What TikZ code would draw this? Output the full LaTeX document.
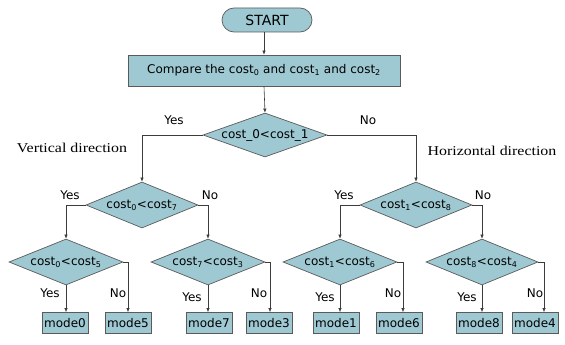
\documentclass[tikz,border=0pt]{standalone}
\usepackage{fontspec}
\setmainfont{DejaVu Sans}
\newfontfamily\seriff[FakeStretch=1.18]{Liberation Serif}
\usetikzlibrary{shapes.geometric,arrows.meta}
\definecolor{boxfill}{RGB}{158,201,210}
\definecolor{edgeclr}{RGB}{90,90,90}
\definecolor{lineclr}{RGB}{60,60,60}
\newcommand{\sbs}[1]{\textsubscript{#1}}
\begin{document}
\begin{tikzpicture}[x=1pt,y=-1pt,
  shapebox/.style={draw=edgeclr, fill=boxfill, line width=0.7pt, inner sep=0pt, font=\fontsize{12}{14}\selectfont},
  modebox/.style={shapebox, minimum width=46pt, minimum height=21pt},
  decision/.style={shapebox, diamond, minimum width=#1, minimum height=46pt},
  conn/.style={draw=lineclr, line width=0.6pt, -{Latex[length=4pt,width=3.5pt]}},
  lab/.style={font=\fontsize{12}{14}\selectfont, inner sep=0pt},
  dirlab/.style={font=\seriff\fontsize{13.5}{15}\selectfont, inner sep=0pt}]
\useasboundingbox (0,0) rectangle (565,345);
% nodes
\node[shapebox, rounded corners=12pt, minimum width=90pt, minimum height=24pt, font=\fontsize{14}{16}\selectfont] (start) at (267,20) {START};
\node[shapebox, minimum width=272pt, minimum height=31pt] (cmp) at (264,70.5) {Compare the cost\sbs{0} and cost\sbs{1} and cost\sbs{2}};
\node[decision=124pt, minimum height=44pt] (d0) at (265,135) {\makebox[0pt]{cost\_0<cost\_1}};
\node[decision=112pt] (dL) at (142,205) {\makebox[0pt]{cost\sbs{0}<cost\sbs{7}}};
\node[decision=112pt] (dR) at (416,205) {\makebox[0pt]{cost\sbs{1}<cost\sbs{8}}};
\node[decision=114pt] (dLL) at (66,262) {\makebox[0pt]{cost\sbs{0}<cost\sbs{5}}};
\node[decision=114pt] (dLR) at (208,262) {\makebox[0pt]{cost\sbs{7}<cost\sbs{3}}};
\node[decision=114pt] (dRL) at (340,262) {\makebox[0pt]{cost\sbs{1}<cost\sbs{6}}};
\node[decision=112pt] (dRR) at (482,262) {\makebox[0pt]{cost\sbs{8}<cost\sbs{4}}};
\node[modebox] (m0) at (65,323) {mode0};
\node[modebox] (m5) at (128,323) {mode5};
\node[modebox] (m7) at (209,323) {mode7};
\node[modebox] (m3) at (269,323) {mode3};
\node[modebox] (m1) at (336,323) {mode1};
\node[modebox] (m6) at (399,323) {mode6};
\node[modebox] (m8) at (479,323) {mode8};
\node[modebox] (m4) at (535,323) {mode4};
% connectors
\draw[conn] (start.south -| cmp.north) -- (cmp.north);
\draw[conn] (cmp.south) -- (d0.north);
\draw[conn] (d0.west) -| (dL.north);
\draw[conn] (d0.east) -| (dR.north);
\draw[conn] (dL.west) -| (dLL.north);
\draw[conn] (dL.east) -| (dLR.north);
\draw[conn] (dR.west) -| (dRL.north);
\draw[conn] (dR.east) -| (dRR.north);
\draw[conn] (dLL.south) -- (dLL.south |- m0.north);
\draw[conn] (dLL.east) -| (m5.north);
\draw[conn] (dLR.south) -- (dLR.south |- m7.north);
\draw[conn] (dLR.east) -| ([xshift=1pt]m3.north);
\draw[conn] (dRL.south) -- (dRL.south |- m1.north);
\draw[conn] (dRL.east) -| ([xshift=4pt]m6.north);
\draw[conn] (dRR.south) -- (dRR.south |- m8.north);
\draw[conn] (dRR.east) -| ([xshift=9pt]m4.north);
% labels
\node[lab] (y0) at (174,120) {Yes};
\node[lab] (n0) at (368,120) {No};
\node[dirlab] (vd) at (72,148) {Vertical direction};
\node[dirlab] (hd) at (492,151) {Horizontal direction};
\node[lab] (yL) at (70,195) {Yes};
\node[lab] (nL) at (210,195) {No};
\node[lab] (yR) at (344,195) {Yes};
\node[lab] (nR) at (483,195) {No};
\node[lab] (yLL) at (50,293) {Yes};
\node[lab] (nLL) at (118,293) {No};
\node[lab] (yLR) at (192,297) {Yes};
\node[lab] (nLR) at (259,293) {No};
\node[lab] (yRL) at (325,297) {Yes};
\node[lab] (nRL) at (393,293) {No};
\node[lab] (yRR) at (467,297) {Yes};
\node[lab] (nRR) at (535,293) {No};
\end{tikzpicture}
\end{document}
